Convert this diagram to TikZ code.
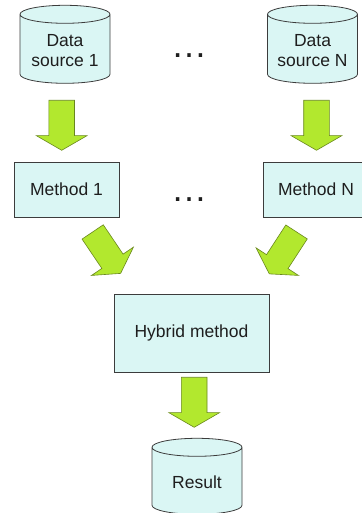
\documentclass[tikz,border=0pt]{standalone}
\usepackage{xcolor}
\usepackage{fontspec}
\setmainfont{Liberation Sans}
\usetikzlibrary{shapes.geometric,shapes.arrows,positioning}
\definecolor{boxfill}{RGB}{218,246,244}
\definecolor{boxline}{RGB}{60,60,60}
\definecolor{arrowfill}{RGB}{178,232,46}
\definecolor{arrowline}{RGB}{105,135,30}
\definecolor{textgray}{RGB}{30,30,30}

\begin{document}
\begin{tikzpicture}[x=1pt,y=1pt,
                    every node/.style={font=\fontsize{17.5}{20.5}\selectfont,text=textgray},
                    store node/.style={cylinder,shape border rotate=90,aspect=0.3,draw=boxline,fill=boxfill,line width=0.8pt,text width=60pt,minimum width=90pt,minimum height=78pt,inner sep=0pt},
                    store text/.style={align=center,yshift=-1.5pt},
                    method node/.style={rectangle,draw=boxline,fill=boxfill,line width=0.8pt,minimum width=105pt,minimum height=55pt,inner sep=0pt},
                    fat arrow/.style={single arrow,draw=arrowline,fill=arrowfill,line width=0.6pt,inner xsep=0pt,inner ysep=12.5pt,minimum height=50pt,single arrow head extend=12.5pt,single arrow tip angle=120,anchor=tail},
                    dots node/.style={font=\fontsize{36}{36}\selectfont,anchor=base,inner sep=0pt}]

  \useasboundingbox (0,0) rectangle (361,513);

  \node[store node,label={[store text]center:Data\\source 1}] (ds1) at (65,464) {};
  \node[store node,label={[store text]center:Data\\source N}] (dsN) at (312.5,464) {};
  \node[method node] (m1) at (66.5,323.5) {Method 1};
  \node[method node] (mN) at (316,323.5) {Method N};
  \node[method node,minimum width=155pt,minimum height=78pt] (hyb) at (191.5,180) {Hybrid method};
  \node[store node,minimum height=76pt,label={[store text]center:Result}] (res) at (197,32) {};

  \node[dots node] (dots1) at (189,455) {…};
  \node[dots node] (dots2) at (189,311) {…};

  % block arrows between the boxes
  \node[fat arrow,rotate=-90] (a1) at (61.7,413) {};
  \node[fat arrow,rotate=-90] (aN) at (316.5,413) {};
  \node[fat arrow,rotate=-56] (b1) at (92.5,281.3) {};
  \node[fat arrow,rotate=-123] (bN) at (296.7,281.3) {};
  \node[fat arrow,rotate=-90] (c1) at (194.2,136) {};

\end{tikzpicture}
\end{document}
